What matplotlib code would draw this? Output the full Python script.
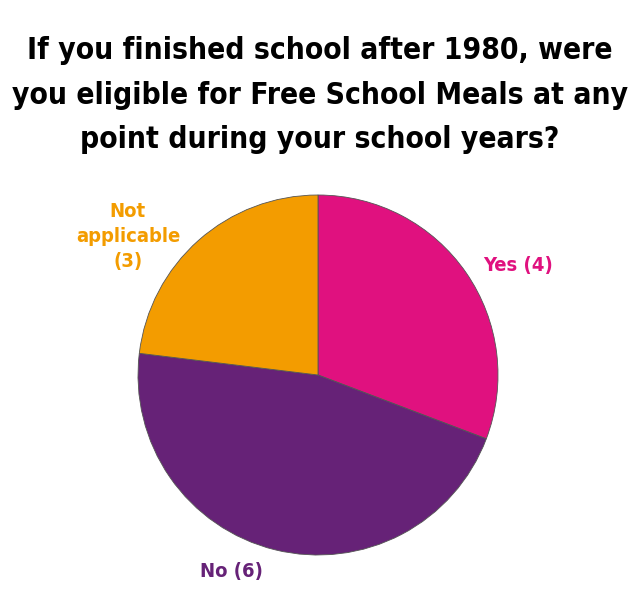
import matplotlib
matplotlib.use("Agg")
import matplotlib.pyplot as plt

categories = ["Yes", "No", "Not\napplicable"]
values = [4, 6, 3]
colors = ["#E0117F", "#662277", "#F39C00"]
title = "If you finished school after 1980, were\nyou eligible for Free School Meals at any\npoint during your school years?"

plt.rcParams['font.family'] = ['DejaVu Sans']

fig = plt.figure(figsize=(6.4, 6.0), dpi=100)
fig.patch.set_facecolor("white")
ax = fig.add_axes([(318 - 180) / 640, 45 / 600, 360 / 640, 360 / 600])
wedges, _ = ax.pie(values, colors=colors, startangle=90, counterclock=False,
                   wedgeprops=dict(edgecolor="#555555", linewidth=0.6))
ax.set_aspect("equal")
ax.set_xlim(-1, 1)
ax.set_ylim(-1, 1)
ax.axis("off")

label_pos = [(0.92, 0.61, "left"), (-0.48, -1.094, "center"), (-1.056, 0.767, "center")]
for cat, v, c, (x, y, ha) in zip(categories, values, colors, label_pos):
    ax.text(x, y, f"{cat}\n({v})" if "\n" in cat else f"{cat} ({v})", color=c,
            ha=ha, va="center", fontsize=14.5, fontweight="bold", fontstretch="condensed",
            linespacing=1.4, clip_on=False)

fig.text(0.5, 1 - 95 / 600, title, ha="center", va="center", fontsize=21.5,
         fontweight="bold", fontstretch="condensed", color="black", linespacing=1.66)

fig.savefig("out.png", dpi=100)
